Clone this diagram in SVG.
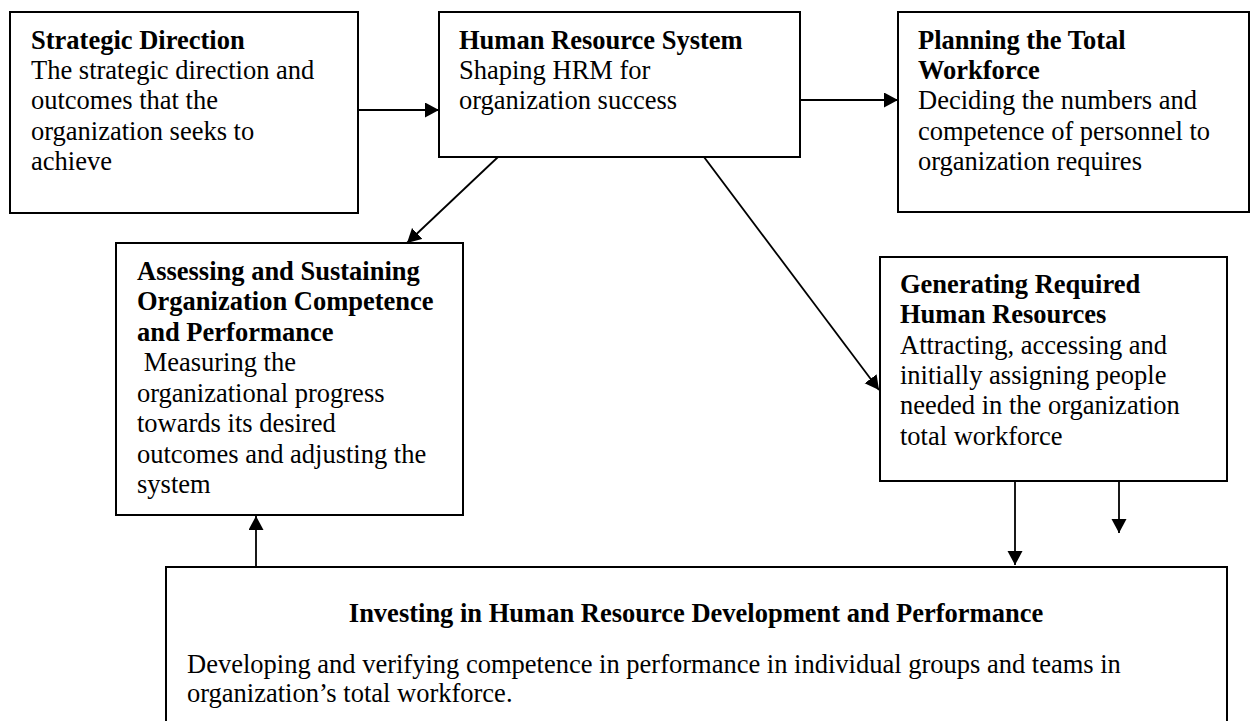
<svg xmlns="http://www.w3.org/2000/svg" width="1251" height="721" viewBox="0 0 1251 721">
<style>
.box{fill:#fff;stroke:#000;stroke-width:2}
.t{font-family:"Liberation Serif","Times New Roman",serif;font-size:26.5px;fill:#000}
.b{font-weight:bold}
.c{stroke:#000;stroke-width:1.8;fill:none;marker-end:url(#ah)}
</style>
<defs>
<marker id="ah" markerUnits="userSpaceOnUse" markerWidth="16" markerHeight="16" refX="14" refY="7.5" orient="auto">
<path d="M0,0 L14,7.5 L0,15 z" fill="#000"/>
</marker>
</defs>
<rect width="1251" height="721" fill="#fff"/>
<g id="strategic">
<rect class="box" x="10" y="12" width="348" height="201"/>
<text class="t"><tspan class="b" x="31" y="49">Strategic Direction</tspan><tspan x="31" y="79">The strategic direction and</tspan><tspan x="31" y="109">outcomes that the</tspan><tspan x="31" y="140">organization seeks to</tspan><tspan x="31" y="170">achieve</tspan></text>
</g>
<g id="hrsystem">
<rect class="box" x="439" y="12" width="361" height="145"/>
<text class="t"><tspan class="b" x="459" y="49">Human Resource System</tspan><tspan x="459" y="79">Shaping HRM for</tspan><tspan x="459" y="109">organization success</tspan></text>
</g>
<g id="planning">
<rect class="box" x="898" y="12" width="351" height="200"/>
<text class="t"><tspan class="b" x="918" y="49">Planning the Total</tspan><tspan class="b" x="918" y="79">Workforce</tspan><tspan x="918" y="109">Deciding the numbers and</tspan><tspan x="918" y="140">competence of personnel to</tspan><tspan x="918" y="170">organization requires</tspan></text>
</g>
<g id="assessing">
<rect class="box" x="116" y="243" width="347" height="272"/>
<text class="t" xml:space="preserve"><tspan class="b" x="137" y="280">Assessing and Sustaining</tspan><tspan class="b" x="137" y="310">Organization Competence</tspan><tspan class="b" x="137" y="341">and Performance</tspan><tspan x="137" y="371"> Measuring the</tspan><tspan x="137" y="402">organizational progress</tspan><tspan x="137" y="432">towards its desired</tspan><tspan x="137" y="463">outcomes and adjusting the</tspan><tspan x="137" y="493">system</tspan></text>
</g>
<g id="generating">
<rect class="box" x="880" y="257" width="347" height="224"/>
<text class="t"><tspan class="b" x="900" y="293">Generating Required</tspan><tspan class="b" x="900" y="323">Human Resources</tspan><tspan x="900" y="354">Attracting, accessing and</tspan><tspan x="900" y="384">initially assigning people</tspan><tspan x="900" y="414">needed in the organization</tspan><tspan x="900" y="445">total workforce</tspan></text>
</g>
<g id="investing">
<rect class="box" x="166" y="567" width="1061" height="180"/>
<text class="t b" x="696" y="622" text-anchor="middle">Investing in Human Resource Development and Performance</text>
<text class="t"><tspan x="187" y="673">Developing and verifying competence in performance in individual groups and teams in</tspan><tspan x="187" y="702">organization’s total workforce.</tspan></text>
</g>
<g id="connectors">
<path class="c" d="M358,110 L439,110"/>
<path class="c" d="M800,100 L898,100"/>
<path class="c" d="M498,157 L407,243"/>
<path class="c" d="M704,157 L879,390"/>
<path class="c" d="M1015,481 L1015,565"/>
<path class="c" d="M1119,481 L1119,533"/>
<path class="c" d="M256,567 L256,516"/>
</g>
</svg>
